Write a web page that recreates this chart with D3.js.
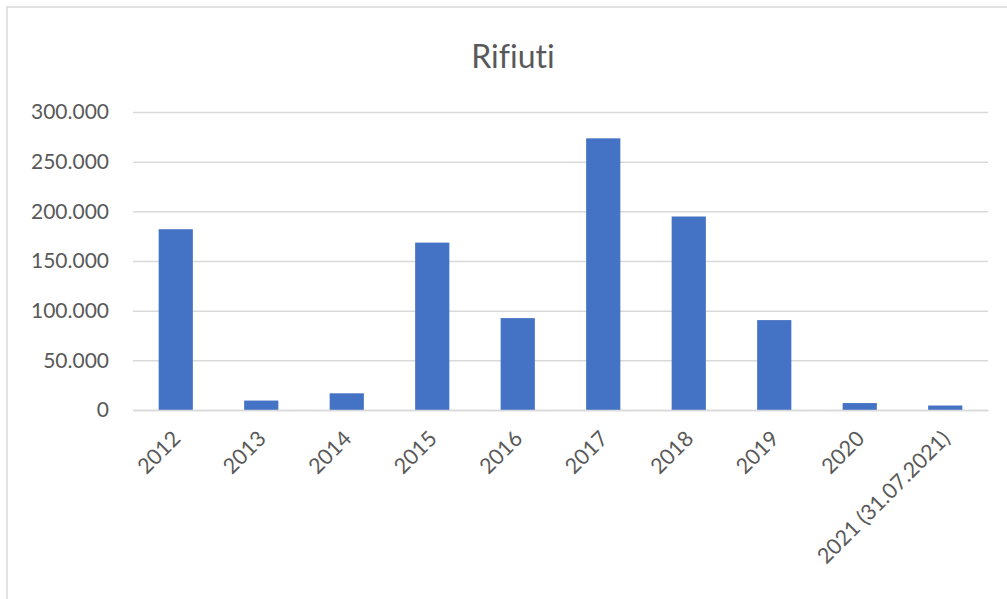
<!DOCTYPE html>
<html>
<head>
<meta charset="utf-8">
<script src="https://cdn.jsdelivr.net/npm/d3@7"></script>
<style>
  body { margin: 0; background: #fff; }
  #chart { width: 1007px; height: 599px; }
  text { font-family: Lato, "Open Sans", sans-serif; fill: #595959; font-variant-ligatures: none; }
</style>
</head>
<body>
<div id="chart"></div>
<script>
//Datos
const categorias = ['2012', '2013', '2014', '2015', '2016', '2017', '2018', '2019', '2020', '2021 (31.07.2021)'];
const valores = [182000, 9500, 16800, 168500, 92500, 273500, 194800, 90500, 7000, 4500];
const ticksY = [0, 50000, 100000, 150000, 200000, 250000, 300000];

let margin = {top: 112, right: 19, bottom: 189, left: 133},
    width = 1007 - margin.left - margin.right,
    height = 599 - margin.top - margin.bottom;

let root = d3.select('#chart')
    .append('svg')
    .attr('width', 1007)
    .attr('height', 599);

//Marco
root.append('rect')
    .attr('x', 7).attr('y', 7)
    .attr('width', 1010).attr('height', 610)
    .attr('fill', '#fff')
    .attr('stroke', '#d9d9d9')
    .attr('stroke-width', 1.5);

root.append('text')
    .attr('x', 513)
    .attr('y', 68)
    .attr('text-anchor', 'middle')
    .style('font-size', '32px')
    .text('Rifiuti');

let svg = root.append('g')
    .attr('transform', 'translate(' + margin.left + ',' + margin.top + ')');

let x = d3.scaleBand()
    .domain(categorias)
    .range([0, width])
    .paddingInner(0.6)
    .paddingOuter(0.3);

let y = d3.scaleLinear()
    .domain([0, 300000])
    .range([height, 0]);

const fmt = d => d3.format(',')(d).replace(/,/g, '.');

//Rejilla
svg.append('g')
    .call(d3.axisLeft(y).tickValues(ticksY).tickSize(-width).tickFormat(fmt).tickPadding(24))
    .call(g => g.select('.domain').remove())
    .call(g => g.selectAll('line').attr('stroke', '#d9d9d9').attr('stroke-width', 1.5))
    .call(g => g.selectAll('text').style('font-size', '21px').attr('fill', '#595959'));

svg.selectAll('.bars')
    .data(valores)
    .enter()
    .append('rect')
    .attr('class', 'bars')
    .attr('x', (d, i) => x(categorias[i]))
    .attr('y', d => y(d))
    .attr('width', x.bandwidth())
    .attr('height', d => height - y(d))
    .attr('fill', '#4472C4');

svg.append('g')
    .attr('transform', 'translate(0,' + height + ')')
    .call(d3.axisBottom(x).tickSize(0).tickPadding(0))
    .call(g => g.select('.domain').attr('stroke', '#d9d9d9').attr('stroke-width', 1.5))
    .call(g => g.selectAll('text')
        .style('font-size', '21.5px')
        .attr('fill', '#595959')
        .attr('text-anchor', 'end')
        .attr('dy', '0')
        .attr('transform', 'translate(6,30) rotate(-45)'));
</script>
</body>
</html>
